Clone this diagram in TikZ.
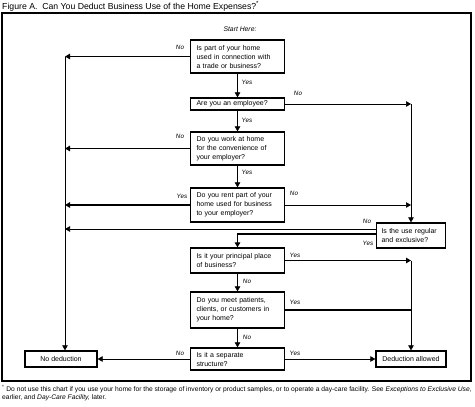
\documentclass[tikz,border=0pt]{standalone}
\usepackage{fontspec}
\setmainfont{Liberation Sans}
\usetikzlibrary{arrows.meta}
\begin{document}
\begin{tikzpicture}[x=1pt,y=-1pt,
  qbox/.style={draw, line width=1.3pt, align=left, inner xsep=6pt, inner ysep=1pt,
    font=\fontsize{7}{9}\selectfont, text width=82pt, minimum height=#1, anchor=center},
  rbox/.style={draw, line width=1.3pt, align=left, inner xsep=5pt, inner ysep=1pt,
    font=\fontsize{7}{9}\selectfont, text width=59pt, minimum height=#1, anchor=center},
  ebox/.style={draw, line width=1.3pt, align=center, inner sep=1pt,
    font=\fontsize{7}{9}\selectfont, minimum width=#1, minimum height=16pt, anchor=center},
  thinl/.style={line width=0.7pt},
  thickl/.style={line width=1.8pt},
  tip/.style={-{Triangle[length=5pt,width=5.5pt]}},
  lab/.style={font=\fontsize{6.3}{7}\selectfont\itshape, inner sep=0pt}
]
\useasboundingbox (0,0) rectangle (475,407);
% title and frame
\node[anchor=west, inner sep=0pt, font=\fontsize{8.7}{10}\selectfont] (title) at (2,6)
  {Figure A.\ \ Can You Deduct Business Use of the Home Expenses?\textsuperscript{*}};
\draw[line width=1.6pt] (2,13) rectangle (471,381);
\node[lab, font=\fontsize{6.8}{8}\selectfont\itshape] (start) at (240,29) {Start Here:};

% coordinates for the two vertical rails
\coordinate (Lx) at (65,0);
\coordinate (Rx) at (411,0);

% boxes
\node[qbox=33pt] (b1) at (237.5,56.5) {Is part of your home\\used in connection with\\a trade or business?};
\node[qbox=12pt] (b2) at (237.5,104) {Are you an employee?};
\node[qbox=33pt] (b3) at (237.5,148.5) {Do you work at home\\for the convenience of\\your employer?};
\node[qbox=34pt] (b4) at (237.5,205) {Do you rent part of your\\home used for business\\to your employer?};
\node[rbox=25pt] (b5) at (411,235.5) {Is the use regular\\and exclusive?};
\node[qbox=25pt] (b6) at (237.5,260.5) {Is it your principal place\\of business?};
\node[qbox=36pt] (b7) at (237.5,310) {Do you meet patients,\\clients, or customers in\\your home?};
\node[qbox=22pt] (b8) at (237.5,359) {Is it a separate\\structure?};
\node[ebox=72pt] (nd) at (61,359) {No deduction};
\node[ebox=70pt] (da) at (411,359) {Deduction allowed};

% connectors
\draw[thickl, tip] (b1.west) -- (b1.west -| Lx);
\draw[thinl, tip] (b1.west -| Lx) -- (nd.north -| Lx);
\draw[thinl, tip] (b1.south) -- (b2.north);
\draw[thinl, tip] (b2.east) -- (b2.east -| Rx);
\draw[thinl, tip] (b2.east -| Rx) -- (b5.north);
\draw[thinl, tip] (b2.south) -- (b3.north);
\draw[thickl, tip] (b3.west) -- (b3.west -| Lx);
\draw[thinl, tip] (b3.south) -- (b4.north);
\draw[thickl, tip] (b4.west) -- (b4.west -| Lx);
\draw[thinl, tip] (b4.east) -- (b4.east -| Rx);
\draw[thinl, tip] ([yshift=6.5pt]b5.west) -- ([yshift=6.5pt]b5.west -| Lx);
\draw[thickl, tip] ([yshift=1.5pt]b5.west) -| (b6.north);
\draw[thickl, tip] (b6.east) -- (b6.east -| Rx);
\draw[thinl, tip] (b6.east -| Rx) -- (da.north);
\draw[thinl, tip] (b6.south) -- (b7.north);
\draw[thickl] (b7.east) -- (b7.east -| Rx);
\draw[thinl, tip] (b7.south) -- (b8.north);
\draw[thinl, tip] (b8.west) -- (nd.east);
\draw[thinl, tip] (b8.east) -- (da.west);

% labels
\node[lab] (l1) at (180,47) {No};
\node[lab] (l2) at (247,82) {Yes};
\node[lab] (l3) at (298,93) {No};
\node[lab] (l4) at (247,120) {Yes};
\node[lab] (l5) at (180,136) {No};
\node[lab] (l6) at (247,172) {Yes};
\node[lab] (l7) at (182,196) {Yes};
\node[lab] (l8) at (294,193) {No};
\node[lab] (l9) at (367,221) {No};
\node[lab] (l10) at (368,243) {Yes};
\node[lab] (l11) at (295,255) {Yes};
\node[lab] (l12) at (247,281) {No};
\node[lab] (l13) at (295,302) {Yes};
\node[lab] (l14) at (247,337) {No};
\node[lab] (l15) at (180,353) {No};
\node[lab] (l16) at (295,353) {Yes};

% footnote
\node[anchor=west, inner sep=0pt, font=\fontsize{6.7}{8}\selectfont] (fn1) at (2,389)
  {\textsuperscript{*} Do not use this chart if you use your home for the storage of inventory or product samples, or to operate a day-care facility. See \textit{Exceptions to Exclusive Use,}};
\node[anchor=west, inner sep=0pt, font=\fontsize{6.7}{8}\selectfont] (fn2) at (2,398)
  {earlier, and \textit{Day-Care Facility,} later.};
\end{tikzpicture}
\end{document}
